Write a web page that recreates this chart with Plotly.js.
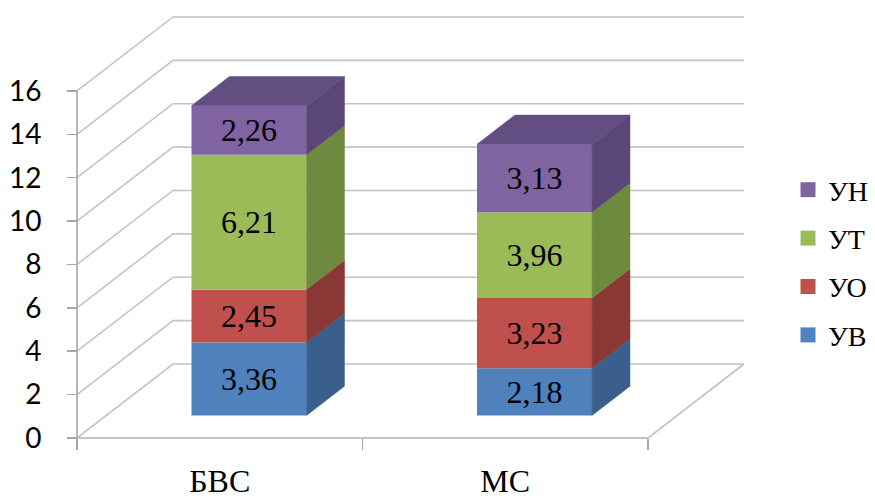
<!DOCTYPE html>
<html><head><meta charset="utf-8">
<script src="https://cdn.plot.ly/plotly-3.0.1.min.js"></script>
<style>html,body{margin:0;padding:0;background:#fff}</style>
</head><body><div id="chart" style="width:875px;height:499px"></div>
<script>
// ---- data ----
const categories = ['БВС', 'МС'];
const seriesNames = ['УВ', 'УО', 'УТ', 'УН'];
const valuesUV = [3.36, 2.18];
const valuesUO = [2.45, 3.23];
const valuesUT = [6.21, 3.96];
const valuesUN = [2.26, 3.13];
const yTicks = [0, 2, 4, 6, 8, 10, 12, 14, 16];

// ---- styles ----
const frontColors = ['#4F81BD', '#C0504D', '#9BBB59', '#8064A2'];
const sideColors  = ['#3A5F8C', '#8A3835', '#6E8A3E', '#5B4678'];
const topColor = '#634E82';
const fontSerifName = 'Liberation Serif';
const fontSansName = 'Lato';

// ---- pseudo-3D geometry (projection of depth onto the 2D axes) ----
const W = 875, H = 499, ML = 60, MB = 50;
const X0PX = 77, Y0PX = 438, PXU = 285.5, PYU = 21.69;
const DX = 96, DY = 74;
const KX = DX / PXU, KY = DY / PYU;
const ZF = 0.305, ZB = 0.70, BW = 0.403;
const PW = W - ML, PH = H - MB;

const series = [valuesUV, valuesUO, valuesUT, valuesUN];
const nCat = categories.length;
const fmt = v => v.toFixed(2).replace('.', ',');

const traces = [];
const cum = categories.map(() => 0);
const dzx = (ZB - ZF) * KX, dzy = (ZB - ZF) * KY;

series.forEach((vals, s) => {
  const xs = [], bases = [];
  categories.forEach((c, i) => {
    xs.push(i + 0.5 + ZF * KX);
    bases.push(cum[i] + ZF * KY);
  });
  traces.push({
    type: 'bar', x: xs, y: vals, base: bases, width: BW,
    marker: {color: frontColors[s], line: {width: 0}},
    text: vals.map(fmt), textposition: 'inside', insidetextanchor: 'middle',
    textfont: {family: fontSerifName, size: 32, color: '#000'},
    showlegend: false, hoverinfo: 'skip'
  });
  categories.forEach((c, i) => {
    const xl = i + 0.5 - BW / 2 + ZF * KX;
    const xr = i + 0.5 + BW / 2 + ZF * KX;
    const y0 = cum[i] + ZF * KY, y1 = y0 + vals[i];
    traces.push({
      type: 'scatter', mode: 'lines', fill: 'toself', fillcolor: sideColors[s],
      line: {color: sideColors[s], width: 0.5},
      x: [xr, xr + dzx, xr + dzx, xr, xr],
      y: [y0, y0 + dzy, y1 + dzy, y1, y0],
      showlegend: false, hoverinfo: 'skip'
    });
    if (s === series.length - 1) {
      traces.push({
        type: 'scatter', mode: 'lines', fill: 'toself', fillcolor: topColor,
        line: {color: topColor, width: 0.5},
        x: [xl, xr, xr + dzx, xl + dzx, xl],
        y: [y1, y1, y1 + dzy, y1 + dzy, y1],
        showlegend: false, hoverinfo: 'skip'
      });
    }
  });
  categories.forEach((c, i) => { cum[i] += vals[i]; });
});

for (let s = series.length - 1; s >= 0; s--) {
  traces.push({
    type: 'scatter', mode: 'markers', x: [null], y: [null], name: seriesNames[s],
    legendgroup: seriesNames[s],
    marker: {symbol: 'square', size: 15, color: frontColors[s]}, hoverinfo: 'skip'
  });
}

const gridColor = '#c4c4c4', axisColor = '#a6a6a6';
const shapes = [];
yTicks.forEach(t => {
  shapes.push({type: 'path', xref: 'x', yref: 'y', layer: 'below',
    path: `M0,${t} L${KX},${t + KY} L${nCat + KX},${t + KY}`,
    line: {color: gridColor, width: 1.6}});
});
shapes.push({type: 'path', xref: 'x', yref: 'y', layer: 'below',
  path: `M${nCat},0 L${nCat + KX},${KY}`, line: {color: gridColor, width: 1.6}});
shapes.push({type: 'path', xref: 'x', yref: 'y', layer: 'below',
  path: `M0,0 L${nCat},0`, line: {color: gridColor, width: 1.8}});
shapes.push({type: 'path', xref: 'x', yref: 'y', layer: 'below',
  path: `M0,0 L0,${yTicks[yTicks.length - 1]}`, line: {color: axisColor, width: 1.6}});

const layout = {
  width: W, height: H,
  font: {family: fontSerifName, color: '#000'},
  margin: {l: ML, r: 0, t: 0, b: MB, pad: 0, autoexpand: false},
  paper_bgcolor: '#fff', plot_bgcolor: 'rgba(0,0,0,0)',
  barmode: 'overlay',
  showlegend: true,
  xaxis: {
    range: [(ML - X0PX) / PXU, (W - X0PX) / PXU],
    anchor: 'free', position: (PH - Y0PX) / PH, automargin: false,
    tickvals: categories.map((c, i) => i + 0.5), ticktext: categories,
    ticks: '', showgrid: false, zeroline: false, showline: false,
    tickfont: {family: fontSerifName, size: 32, color: '#000'},
    ticklabelstandoff: 21,
    minor: {tickmode: 'linear', tick0: 0, dtick: 1, ticks: 'outside', ticklen: 11,
            tickcolor: axisColor, tickwidth: 1.5, showgrid: false}
  },
  yaxis: {
    range: [-(PH - Y0PX) / PYU, Y0PX / PYU],
    anchor: 'free', position: (X0PX - ML) / PW, automargin: false,
    tickvals: yTicks, ticktext: yTicks.map(String),
    ticks: 'outside', ticklen: 10, tickcolor: axisColor, tickwidth: 1.5,
    showgrid: false, zeroline: false, showline: false,
    tickfont: {family: fontSansName, size: 28, color: '#000'},
    ticklabelstandoff: 20
  },
  legend: {
    xref: 'container', yref: 'container', x: 788 / W, y: 1 - 165 / H,
    xanchor: 'left', yanchor: 'top',
    font: {family: fontSerifName, size: 28, color: '#000'},
    traceorder: 'grouped', tracegroupgap: 9, bgcolor: 'rgba(0,0,0,0)'
  },
  shapes: shapes
};

Plotly.newPlot('chart', traces, layout, {displayModeBar: false, staticPlot: true});
</script></body></html>
